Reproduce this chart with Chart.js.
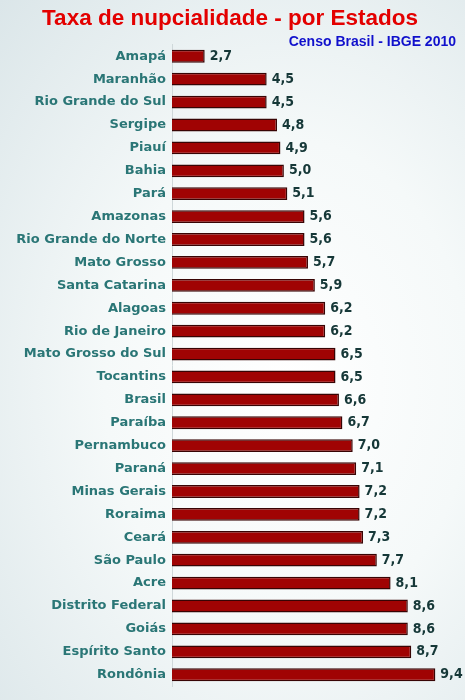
<!DOCTYPE html>
<html>
<head>
<meta charset="utf-8">
<script src="https://cdn.jsdelivr.net/npm/chart.js@4"></script>
<style>
  html, body { margin: 0; padding: 0; }
  body {
    width: 465px; height: 700px; overflow: hidden;
    background: radial-gradient(ellipse at 62% 55%, #ffffff 0%, #f5f9f9 45%, #dbe6e9 100%);
  }
  .wrap { position: relative; width: 465px; height: 700px; }
</style>
</head>
<body>
<div class="wrap"><canvas id="nupcialidade"></canvas></div>
<script>
const estados = ['Amapá', 'Maranhão', 'Rio Grande do Sul', 'Sergipe', 'Piauí', 'Bahia', 'Pará',
  'Amazonas', 'Rio Grande do Norte', 'Mato Grosso', 'Santa Catarina', 'Alagoas', 'Rio de Janeiro',
  'Mato Grosso do Sul', 'Tocantins', 'Brasil', 'Paraíba', 'Pernambuco', 'Paraná', 'Minas Gerais',
  'Roraima', 'Ceará', 'São Paulo', 'Acre', 'Distrito Federal', 'Goiás', 'Espírito Santo', 'Rondônia'];
const taxas = [2.7, 4.5, 4.5, 4.8, 4.9, 5.0, 5.1, 5.6, 5.6, 5.7, 5.9, 6.2, 6.2, 6.5, 6.5, 6.6,
  6.7, 7.0, 7.1, 7.2, 7.2, 7.3, 7.7, 8.1, 8.6, 8.6, 8.7, 9.4];

// valor escrito na ponta de cada barra
const valueLabels = {
  id: 'valueLabels',
  afterDatasetsDraw(chart) {
    const ctx = chart.ctx;
    const meta = chart.getDatasetMeta(0);
    ctx.save();
    ctx.font = 'bold 14px "DejaVu Sans Condensed", "DejaVu Sans"';
    ctx.fillStyle = '#163838';
    ctx.textBaseline = 'middle';
    ctx.textAlign = 'left';
    meta.data.forEach((bar, i) => {
      ctx.fillText(taxas[i].toFixed(1).replace('.', ','), bar.x + 5, bar.y);
    });
    ctx.restore();
  }
};

const ctx = document.querySelector('#nupcialidade').getContext('2d');

new Chart(ctx, {
  type: 'bar',
  data: {
    labels: estados,
    datasets: [
      {
        data: taxas,
        backgroundColor: '#a00303',
        borderColor: '#380404',
        borderWidth: 1.5,
        borderSkipped: false,
        barPercentage: 0.56,
        categoryPercentage: 1
      }
    ]
  },
  options: {
    indexAxis: 'y',
    responsive: true,
    maintainAspectRatio: false,
    animation: false,
    layout: {
      padding: { left: 4, right: 9, bottom: 7, top: 0 }
    },
    scales: {
      x: {
        display: false,
        min: 1.75,
        max: 10
      },
      y: {
        afterFit: (scale) => {
          scale.width = 168;
        },
        grid: { display: false, drawTicks: false },
        border: { display: true, color: '#cfd8da', width: 1 },
        ticks: {
          padding: 6,
          color: '#2a7676',
          font: { family: '"DejaVu Sans"', weight: 'bold', size: 13 }
        }
      }
    },
    plugins: {
      legend: { display: false },
      tooltip: { enabled: false },
      title: {
        display: true,
        text: 'Taxa de nupcialidade - por Estados',
        color: '#e30000',
        font: { family: '"Liberation Sans", Arial', weight: 'bold', size: 22.5 },
        padding: { top: 5, bottom: 2 }
      },
      subtitle: {
        display: true,
        text: 'Censo Brasil - IBGE 2010',
        align: 'end',
        color: '#1010cc',
        font: { family: '"Liberation Sans", Arial', weight: 'bold', size: 14 },
        padding: { top: 0, bottom: -6 }
      }
    }
  },
  plugins: [valueLabels]
});
</script>
</body>
</html>
